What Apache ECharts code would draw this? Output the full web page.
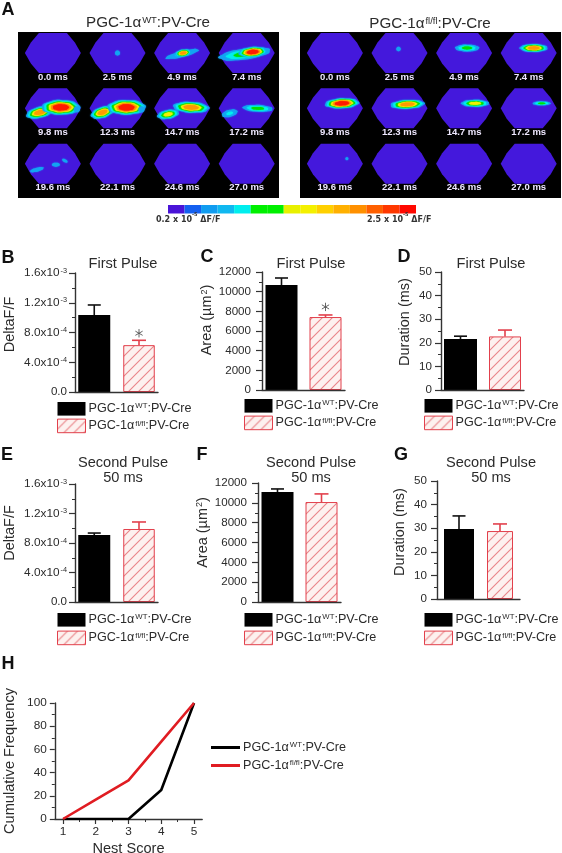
<!DOCTYPE html>
<html><head><meta charset="utf-8">
<script src="https://cdn.jsdelivr.net/npm/echarts@6/dist/echarts.min.js"></script>
<style>html,body{margin:0;background:#fff}#c{width:562px;height:853px;filter:blur(0.4px)}</style>
</head><body><div id="c"></div>
<script>
// ---------- data ----------
const frameLabels = ['0.0 ms','2.5 ms','4.9 ms','7.4 ms','9.8 ms','12.3 ms','14.7 ms','17.2 ms','19.6 ms','22.1 ms','24.6 ms','27.0 ms'];
const rampColors = ['#12a4f2','#00efef','#00e000','#f4f000','#ff9a00','#ff1a00'];
const barColors = ['#4a14d8','#1460f0','#109cf0','#10b8f0','#00eeee','#00f000','#00f000','#e8f000','#f4f000','#ffd000','#ffb000','#ff9000','#ff6000','#ff3800','#ff0800'];
// col,row, dx,dy, rx,ry, rotation, peak level
const wtBlobs = [
 [1,0, 0,0,2.5,2.5,0,0],
 [2,0, 0,1,17,3,-14,1],[2,0, 1,0,8,3.5,-10,4],
 [3,0, -2,1,26,5.5,-8,2],[3,0, 6,-1,14,5,-5,5],
 [0,1, -13,4,14,5.5,-14,4],[0,1, 8,-1,19,7.5,0,5],[0,1, 24,1,3,3,0,0],
 [1,1, -15,4,12,5.5,-18,4],[1,1, 9,-1,19,7.5,0,5],[1,1, 24,1,3,3,0,0],
 [2,1, -14,6,11,4.5,-10,3],[2,1, 9,-1,18,5.5,3,4],
 [3,1, -17,5,8,3.5,-15,1],[3,1, 11,0,15,3.5,3,2],
 [0,2, -16,6,7,2,-15,0],[0,2, 3,1,4,2,0,0],[0,2, 12,-3,3,1.5,30,0]
];
const flBlobs = [
 [1,0, -1,-4,2.2,2.2,0,0],
 [2,0, 3,-5,12,3.5,0,2],[2,0, 13,-5,1.5,1.5,0,0],
 [3,0, 5,-5,14,4,0,4],
 [0,1, 7,-5,17,5,-3,5],
 [1,1, 8,-4,17,4.5,-3,4],
 [2,1, 11,-5,14,3.5,0,3],
 [3,1, 13,-5,9,2,0,2],
 [0,2, 12,-5,1.5,1.5,0,0]
];
const category = ['Genotype'];
const firstDelta = [1.035e-3, 0.63e-3], firstDeltaTop = [1.17e-3, 0.695e-3];
const firstArea = [10680, 7420], firstAreaTop = [11390, 7630];
const firstDur = [21.6, 22.7], firstDurTop = [22.8, 25.4];
const secondDelta = [0.908e-3, 0.99e-3], secondDeltaTop = [0.935e-3, 1.085e-3];
const secondArea = [11090, 10080], secondAreaTop = [11400, 10900];
const secondDur = [29.7, 28.8], secondDurTop = [35.2, 31.8];
const nestScores = [1,2,3,4,5];
const cumWT = [0,0,0,25,100];
const cumFl = [0,16.7,33.3,66.7,100];
const deltaTicks = ['0.0','{a|4.0x10}{s|-4}','{a|8.0x10}{s|-4}','{a|1.2x10}{s|-3}','{a|1.6x10}{s|-3}'];
const nameWT = '{a|PGC-1α}{s|WT}{a|:PV-Cre}';
const nameFl = '{a|PGC-1α}{s|fl/fl}{a|:PV-Cre}';

// ---------- styling helpers ----------
const FONT = '"Liberation Sans", Arial, sans-serif';
const INK = '#2b2b2b';
const RED = '#e2404c';
const hatch = (() => {
  const c = document.createElement('canvas'); c.width = c.height = 10;
  const g = c.getContext('2d');
  g.fillStyle = '#fdf1ef'; g.fillRect(0,0,10,10);
  g.strokeStyle = '#ea8589'; g.lineWidth = 1.1;
  g.beginPath(); g.moveTo(-2,12); g.lineTo(12,-2); g.moveTo(-2,2); g.lineTo(2,-2); g.moveTo(8,12); g.lineTo(12,8); g.stroke();
  return c;
})();
const richText = (size) => ({
  a:{fontSize:size,fontFamily:FONT,color:INK},
  s:{fontSize:size*0.62,fontFamily:FONT,color:INK,verticalAlign:'top',padding:[0,0,0,1]}
});

const option = {animation:false, backgroundColor:'#fff', grid:[], xAxis:[], yAxis:[], series:[], legend:[], title:[]};

function addTitle(text,x,y,size,extra){
  option.title.push({text,left:x,top:y,padding:0,textAlign:(extra&&extra.align)||'center',textVerticalAlign:'middle',
    textStyle:Object.assign({fontFamily:FONT,fontSize:size,fontWeight:'normal',color:INK,lineHeight:15,rich:richText(size)},extra&&extra.style)});
}
['A',8,10,'B',8,258,'C',207,257,'D',404,257,'E',7,455,'F',202,455,'G',401,455,'H',8,664].forEach((v,i,a)=>{
  if(i%3===0) addTitle(v,a[i+1],a[i+2],18,{style:{fontWeight:'bold',color:'#111'}});
});
addTitle(nameWT,148,23,15.2);
addTitle(nameFl,430,24,15.2);

// ---------- panel A ----------
function hexPanel(left,width,blobs,name){
  const g = option.grid.length;
  option.grid.push({left,top:32,width,height:166,show:true,backgroundColor:'#000',borderWidth:0,outerBoundsMode:'none'});
  option.xAxis.push({gridIndex:g,type:'value',min:-0.54,max:3.5,show:false});
  option.yAxis.push({gridIndex:g,type:'value',min:-0.38,max:2.62,inverse:true,show:false});
  const cells = frameLabels.map((l,i)=>[i%4,Math.floor(i/4),i]);
  option.series.push({type:'custom',name:name+' frames',xAxisIndex:g,yAxisIndex:g,data:cells,z:2,silent:true,
    renderItem(p,api){
      const c = api.coord([api.value(0),api.value(1)]);
      const pts = [[-14,-20],[14,-20],[22,-10.5],[28,0],[22,10.5],[14,20],[-14,20],[-22,10.5],[-28,0],[-22,-10.5]].map(q=>[c[0]+q[0],c[1]+q[1]]);
      return {type:'polygon',shape:{points:pts},style:{fill:'#4418dc'}};
    }});
  option.series.push({type:'custom',name:name+' activity',xAxisIndex:g,yAxisIndex:g,data:blobs,z:3,silent:true,
    renderItem(p,api){
      const c = api.coord([api.value(0),api.value(1)]);
      const dx=api.value(2),dy=api.value(3),rx=api.value(4),ry=api.value(5),rot=api.value(6)*Math.PI/180,peak=api.value(7);
      const kids=[];
      for(let l=0;l<=peak;l++){
        const s=peak?1-0.58*l/peak:1, pts=[];
        for(let k=0;k<32;k++){
          const t=k/32*2*Math.PI, w=1+(rx>6?0.035*Math.sin(7*t+dx):0);
          const ex=rx*s*w*Math.cos(t), ey=ry*s*w*Math.sin(t);
          pts.push([c[0]+dx+ex*Math.cos(rot)-ey*Math.sin(rot),c[1]+dy+ex*Math.sin(rot)+ey*Math.cos(rot)]);
        }
        kids.push({type:'polygon',shape:{points:pts,smooth:0.3},style:{fill:rampColors[l],shadowBlur:1.5,shadowColor:rampColors[l]}});
      }
      return {type:'group',children:kids};
    }});
  option.series.push({type:'custom',name:name+' times',xAxisIndex:g,yAxisIndex:g,data:cells,z:4,silent:true,
    renderItem(p,api){
      const c = api.coord([api.value(0),api.value(1)]);
      return {type:'text',x:c[0],y:c[1]+24,style:{text:frameLabels[api.value(2)],fill:'#efe8ff',font:'bold 9.5px '+FONT,align:'center',verticalAlign:'middle'}};
    }});
}
hexPanel(18,261,wtBlobs,'WT');
hexPanel(300,261,flBlobs,'fl/fl');

// colour bar
{
  const g = option.grid.length;
  option.grid.push({left:168,top:205,width:248,height:8.5,outerBoundsMode:'none'});
  option.xAxis.push({gridIndex:g,type:'category',data:barColors.map((c,i)=>i),show:false});
  option.yAxis.push({gridIndex:g,type:'value',min:0,max:1,show:false});
  option.series.push({type:'bar',name:'scale',xAxisIndex:g,yAxisIndex:g,barCategoryGap:0,silent:true,
    data:barColors.map(c=>({value:1,itemStyle:{color:c}}))});
  const small={a:{fontSize:8,fontWeight:'bold',fontFamily:'"DejaVu Sans"',color:'#333'},s:{fontSize:5,fontWeight:'bold',fontFamily:'"DejaVu Sans"',color:'#333',verticalAlign:'top'}};
  addTitle('{a|0.2 x 10}{s|-5}{a| ΔF/F}',156,219.5,8,{align:'left',style:{rich:small}});
  addTitle('{a|2.5 x 10}{s|-5}{a| ΔF/F}',367,219.5,8,{align:'left',style:{rich:small}});
}

// ---------- bar panels ----------
function barPanel(cfg){
  const g = option.grid.length;
  option.grid.push({left:cfg.x0,top:cfg.yTop,width:cfg.x1-cfg.x0,height:cfg.yZero-cfg.yTop,outerBoundsMode:'none'});
  option.xAxis.push({gridIndex:g,type:'category',data:category,z:5,axisTick:{show:false},axisLabel:{show:false},
    axisLine:{lineStyle:{color:'#333',width:1.4}}});
  option.yAxis.push({gridIndex:g,type:'value',min:0,max:cfg.max,interval:cfg.interval,splitLine:{show:false},z:5,
    name:cfg.name,nameLocation:'middle',nameGap:cfg.nameGap,nameRotate:90,
    nameTextStyle:{fontFamily:FONT,fontSize:14.5,color:INK,padding:[0,0,0,cfg.nameShift*2],rich:richText(14.5)},
    axisLine:{show:true,lineStyle:{color:'#333',width:1.4}},
    axisTick:{show:true,length:6,lineStyle:{color:'#333',width:1.2}},
    minorTick:{show:true,splitNumber:2,length:3,lineStyle:{color:'#333',width:1}},
    axisLabel:{margin:cfg.labelMargin,fontFamily:FONT,fontSize:11.6,color:INK,rich:richText(11.8),
      formatter:cfg.ticks?(v=>cfg.ticks[Math.round(v/cfg.interval)]):(v=>String(v))}});
  const w0=cfg.w[0],w1=cfg.w[1],gap=cfg.gap,total=w0+gap+w1;
  const centers=[-total/2+w0/2,total/2-w1/2];
  option.series.push({type:'bar',name:'WT',xAxisIndex:g,yAxisIndex:g,data:[cfg.values[0]],barWidth:w0,barGap:(gap/w0*100)+'%',
    itemStyle:{color:'#000'},z:2,silent:true});
  option.series.push({type:'bar',name:'flfl',xAxisIndex:g,yAxisIndex:g,data:[cfg.values[1]],barWidth:w1,barGap:(gap/w0*100)+'%',
    itemStyle:{color:{image:hatch,repeat:'repeat'},borderColor:RED,borderWidth:1},z:2,silent:true});
  option.series.push({type:'custom',name:'error bars',xAxisIndex:g,yAxisIndex:g,z:1,silent:true,
    data:[[0,cfg.values[0],cfg.tops[0],0],[0,cfg.values[1],cfg.tops[1],1]],
    renderItem(p,api){
      const i=api.value(3),a=api.coord([0,api.value(1)]),b=api.coord([0,api.value(2)]);
      const x=a[0]+centers[i],col=i?RED:'#111',half=i?7:6.5;
      const st={stroke:col,lineWidth:1.6};
      return {type:'group',children:[
        {type:'line',shape:{x1:x,y1:a[1],x2:x,y2:b[1]},style:st},
        {type:'line',shape:{x1:x-half,y1:b[1],x2:x+half,y2:b[1]},style:st}]};
    }});
  if(cfg.star!=null){
    option.series.push({type:'custom',name:'significance',xAxisIndex:g,yAxisIndex:g,z:3,silent:true,data:[[0,cfg.star]],
      renderItem(p,api){
        const c=api.coord([0,api.value(1)]),x=c[0]+centers[1],r=4.2;
        const st={stroke:'#555',lineWidth:0.9};
        return {type:'group',children:[0,60,120].map(d=>{
          const t=(d+90)*Math.PI/180;
          return {type:'line',shape:{x1:x-r*Math.cos(t),y1:c[1]-r*Math.sin(t),x2:x+r*Math.cos(t),y2:c[1]+r*Math.sin(t)},style:st};
        })};
      }});
  }
  addTitle(cfg.title,cfg.titleX,cfg.titleY,14.6);
  option.legend.push({left:cfg.legX,top:cfg.legY,padding:0,orient:'vertical',itemWidth:28,itemHeight:13.6,itemGap:cfg.legGap,icon:'rect',
    selectedMode:false,data:['WT','flfl'],formatter:n=>n==='WT'?nameWT:nameFl,itemStyle:{borderWidth:1},
    textStyle:{fontFamily:FONT,fontSize:12.6,color:INK,padding:[0,0,0,-2],rich:richText(12.6)}});
}
const deltaName='DeltaF/F', areaName='{a|Area (µm}{s|2}{a|)}', durName='Duration (ms)';
barPanel({name:deltaName,title:'First Pulse',titleX:123,titleY:264,x0:75,x1:158,yTop:273,yZero:392,max:1.6e-3,interval:4e-4,ticks:deltaTicks,
  nameGap:58,nameShift:8,labelMargin:8,w:[32,31.5],gap:13,values:firstDelta,tops:firstDeltaTop,star:0.79e-3,legX:57,legY:402,legGap:3});
barPanel({name:areaName,title:'First Pulse',titleX:311,titleY:264,x0:262,x1:345,yTop:272,yZero:390,max:12000,interval:2000,
  nameGap:44,nameShift:11,labelMargin:11,w:[32,32],gap:12,values:firstArea,tops:firstAreaTop,star:8450,legX:244,legY:399,legGap:3});
barPanel({name:durName,title:'First Pulse',titleX:491,titleY:264,x0:441,x1:524,yTop:272,yZero:390,max:50,interval:10,
  nameGap:29,nameShift:9,labelMargin:9,w:[33,32],gap:12,values:firstDur,tops:firstDurTop,legX:424,legY:399,legGap:3});
barPanel({name:deltaName,title:'Second Pulse\n50 ms',titleX:123,titleY:470.5,x0:75,x1:158,yTop:484,yZero:602,max:1.6e-3,interval:4e-4,ticks:deltaTicks,
  nameGap:58,nameShift:10,labelMargin:8,w:[32,31.5],gap:13,values:secondDelta,tops:secondDeltaTop,legX:57,legY:613,legGap:4});
barPanel({name:areaName,title:'Second Pulse\n50 ms',titleX:311,titleY:470.5,x0:258,x1:341,yTop:483,yZero:602,max:12000,interval:2000,
  nameGap:48,nameShift:10,labelMargin:11,w:[32,32],gap:12,values:secondArea,tops:secondAreaTop,legX:244,legY:613,legGap:4});
barPanel({name:durName,title:'Second Pulse\n50 ms',titleX:491,titleY:470.5,x0:437,x1:520,yTop:481,yZero:599,max:50,interval:10,
  nameGap:30,nameShift:8,labelMargin:10,w:[30,26],gap:13,values:secondDur,tops:secondDurTop,legX:424,legY:613,legGap:4});

// ---------- panel H ----------
{
  const g = option.grid.length;
  option.grid.push({left:54.8,top:703,width:147.4,height:116,outerBoundsMode:'none'});
  option.xAxis.push({gridIndex:g,type:'value',min:0.75,max:5.25,interval:0.25,splitLine:{show:false},
    name:'Nest Score',nameLocation:'middle',nameGap:22,nameTextStyle:{fontFamily:FONT,fontSize:14.6,color:INK},
    axisLine:{lineStyle:{color:'#333',width:1.4}},
    axisTick:{customValues:nestScores,length:5,lineStyle:{color:'#333',width:1.2}},
    axisLabel:{customValues:nestScores,margin:7,fontFamily:FONT,fontSize:11.8,color:INK}});
  option.xAxis.push({gridIndex:g,type:'value',position:'bottom',min:0.75,max:5.25,interval:0.25,splitLine:{show:false},
    axisLine:{show:false},axisLabel:{show:false},
    axisTick:{customValues:[1.5,2.5,3.5,4.5],length:3,lineStyle:{color:'#333',width:1}}});
  option.yAxis.push({gridIndex:g,type:'value',min:0,max:100,interval:20,splitLine:{show:false},
    name:'Cumulative Frequency',nameLocation:'middle',nameGap:37,nameRotate:90,nameTextStyle:{fontFamily:FONT,fontSize:14.6,color:INK},
    axisLine:{show:true,lineStyle:{color:'#333',width:1.4}},
    axisTick:{show:true,length:5,lineStyle:{color:'#333',width:1.2}},
    minorTick:{show:true,splitNumber:2,length:3,lineStyle:{color:'#333',width:1}},
    axisLabel:{margin:8,fontFamily:FONT,fontSize:11.8,color:INK}});
  const xi = option.xAxis.length-2;
  option.series.push({type:'line',name:'WT line',xAxisIndex:xi,yAxisIndex:g,data:nestScores.map((s,i)=>[s,cumWT[i]]),showSymbol:false,symbol:'none',
    lineStyle:{color:'#000',width:2.6},itemStyle:{color:'#000'},silent:true,z:3});
  option.series.push({type:'line',name:'flfl line',xAxisIndex:xi,yAxisIndex:g,data:nestScores.map((s,i)=>[s,cumFl[i]]),showSymbol:false,symbol:'none',
    lineStyle:{color:'#e01c22',width:2.6},itemStyle:{color:'#e01c22'},silent:true,z:4});
  option.legend.push({left:211,top:741,padding:0,orient:'vertical',itemWidth:29,itemHeight:3,itemGap:5,icon:'rect',selectedMode:false,
    data:['WT line','flfl line'],formatter:n=>n==='WT line'?nameWT:nameFl,
    textStyle:{fontFamily:FONT,fontSize:12.6,color:INK,padding:[0,0,0,-2],rich:richText(12.6)}});
}
const chart = echarts.init(document.getElementById('c'),null,{renderer:'canvas',width:562,height:853});
chart.setOption(option);
</script></body></html>
